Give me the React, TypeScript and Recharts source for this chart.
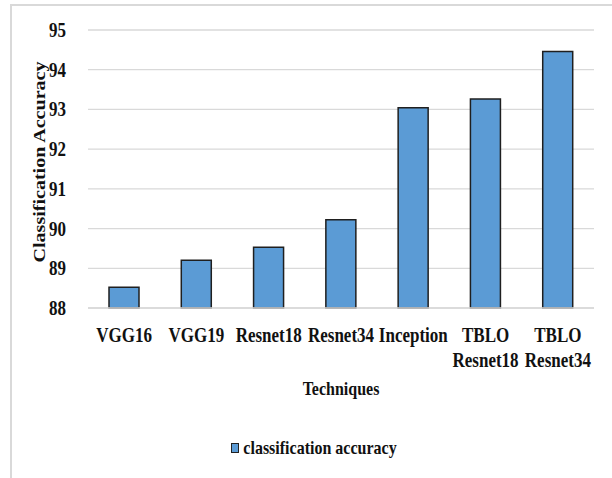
import React from 'react';
import { BarChart, Bar, XAxis, YAxis, CartesianGrid, Legend } from 'recharts';

const techniques = ['VGG16', 'VGG19', 'Resnet18', 'Resnet34', 'Inception', 'TBLO\nResnet18', 'TBLO\nResnet34'];
const accuracy = [88.52, 89.2, 89.53, 90.22, 93.04, 93.26, 94.46];
const yTicks = [88, 89, 90, 91, 92, 93, 94, 95];

const data = techniques.map((t, i) => ({ name: t, acc: accuracy[i] }));

const FONT = 'Liberation Serif';
const BLUE = '#5B9BD5';

const XTick = (props: any) => {
  const { x, y, payload } = props;
  const lines = String(payload.value).split('\n');
  return (
    <g transform={`translate(${x},${y + 34}) scale(1,1.25)`}>
      {lines.map((l, i) => (
        <text key={i} x={0} y={i * 20} textAnchor="middle" style={{ fontFamily: FONT, fontWeight: 700, fontSize: 17 }} fill="#111">
          {l}
        </text>
      ))}
    </g>
  );
};

const YTick = (props: any) => {
  const { x, y, payload } = props;
  return (
    <g transform={`translate(${x},${y}) scale(1,1.2)`}>
      <text x={0} y={5.8} textAnchor="end" style={{ fontFamily: FONT, fontWeight: 700, fontSize: 17 }} fill="#111">
        {payload.value}
      </text>
    </g>
  );
};

const YLabel = (props: any) => {
  const vb = props.viewBox || {};
  const cx = (vb.x ?? 10) + 35;
  const cy = (vb.y ?? 30) + (vb.height ?? 278) / 2 - 7;
  return (
    <g transform={`translate(${cx},${cy}) rotate(-90) scale(1.18,1)`}>
      <text x={0} y={0} textAnchor="middle" style={{ fontFamily: FONT, fontWeight: 700, fontSize: 17 }} fill="#111">
        Classification Accuracy
      </text>
    </g>
  );
};

const XLabel = (props: any) => {
  const vb = props.viewBox || {};
  const cx = (vb.x ?? 88) + (vb.width ?? 506) / 2;
  const cy = (vb.y ?? 308) + 87;
  return (
    <g transform={`translate(${cx},${cy}) scale(1,1.2)`}>
      <text x={0} y={0} textAnchor="middle" style={{ fontFamily: FONT, fontWeight: 700, fontSize: 16 }} fill="#111">
        Techniques
      </text>
    </g>
  );
};

const LegendContent = () => (
  <div style={{ display: 'flex', justifyContent: 'center', alignItems: 'center', height: 24, paddingLeft: 16 }}>
    <span style={{ display: 'inline-block', width: 6, height: 8, background: BLUE, border: '1.5px solid #222', marginRight: 4 }} />
    <span style={{ fontFamily: FONT, fontWeight: 700, fontSize: 16, color: '#111', display: 'inline-block', transform: 'scaleY(1.2)', lineHeight: '22px' }}>
      classification accuracy
    </span>
  </div>
);

export default function App() {
  return (
    <div style={{ position: 'absolute', left: 0, top: 0, width: 612, height: 478, overflow: 'hidden', background: '#fff' }}>
      <div style={{ position: 'absolute', left: 10, top: 4, width: 600, height: 490, border: '2px solid #d9d9d9' }} />
      <div style={{ position: 'absolute', left: 0, top: 0 }}>
        <BarChart width={612} height={478} data={data} margin={{ top: 30, right: 18, left: 10, bottom: 18 }}>
          <CartesianGrid vertical={false} stroke="#d9d9d9" strokeWidth={1.3} />
          <XAxis
            dataKey="name"
            height={128}
            tickSize={0}
            tickMargin={0}
            tick={<XTick />}
            axisLine={{ stroke: '#d9d9d9', strokeWidth: 1.3 }}
            tickLine={false}
            interval={0}
            label={<XLabel />}
          />
          <YAxis
            width={78}
            domain={[88, 95]}
            ticks={yTicks}
            tickSize={0}
            tickMargin={22}
            tick={<YTick />}
            axisLine={false}
            tickLine={false}
            label={<YLabel />}
          />
          <Legend verticalAlign="bottom" height={24} wrapperStyle={{ left: 0, width: 612 }} content={<LegendContent />} />
          <Bar dataKey="acc" name="classification accuracy" fill={BLUE} stroke="#1f1f1f" strokeWidth={1.5} barSize={30} isAnimationActive={false} />
        </BarChart>
      </div>
    </div>
  );
}
